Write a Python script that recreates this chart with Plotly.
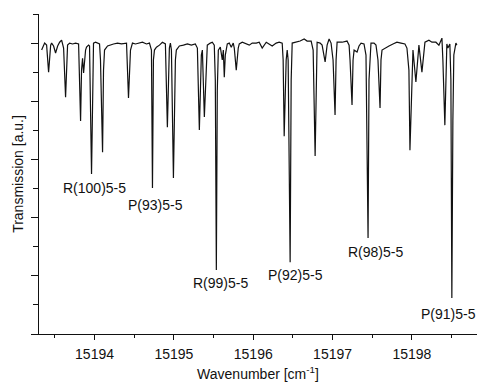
import plotly.graph_objects as go

# Transmission spectrum (normalised, baseline = 1.0)
wavenumber = [
    15193.333, 15193.371, 15193.396, 15193.421, 15193.447, 15193.459, 15193.484, 15193.509,
    15193.535, 15193.560, 15193.585, 15193.610, 15193.635, 15193.648, 15193.660, 15193.686,
    15193.723, 15193.761, 15193.799, 15193.824, 15193.836, 15193.849, 15193.862, 15193.887,
    15193.899, 15193.925, 15193.937, 15193.962, 15193.975, 15193.987, 15194.013, 15194.038,
    15194.063, 15194.075, 15194.101, 15194.113, 15194.126, 15194.164, 15194.189, 15194.239,
    15194.289, 15194.340, 15194.403, 15194.428, 15194.453, 15194.478, 15194.516, 15194.553,
    15194.604, 15194.654, 15194.692, 15194.717, 15194.730, 15194.742, 15194.755, 15194.780,
    15194.818, 15194.855, 15194.893, 15194.918, 15194.943, 15194.956, 15194.969, 15194.994,
    15195.019, 15195.031, 15195.069, 15195.120, 15195.170, 15195.220, 15195.270, 15195.296,
    15195.321, 15195.346, 15195.359, 15195.384, 15195.409, 15195.421, 15195.459, 15195.484,
    15195.509, 15195.522, 15195.535, 15195.547, 15195.560, 15195.585, 15195.610, 15195.623,
    15195.635, 15195.648, 15195.673, 15195.698, 15195.723, 15195.748, 15195.761, 15195.786,
    15195.811, 15195.824, 15195.862, 15195.912, 15195.950, 15195.987, 15196.038, 15196.075,
    15196.113, 15196.164, 15196.201, 15196.239, 15196.289, 15196.327, 15196.365, 15196.377,
    15196.390, 15196.415, 15196.428, 15196.440, 15196.465, 15196.478, 15196.491, 15196.541,
    15196.591, 15196.642, 15196.679, 15196.730, 15196.755, 15196.780, 15196.793, 15196.805,
    15196.843, 15196.868, 15196.906, 15196.931, 15196.956, 15196.981, 15197.006, 15197.031,
    15197.044, 15197.057, 15197.120, 15197.182, 15197.208, 15197.220, 15197.245, 15197.258,
    15197.271, 15197.308, 15197.333, 15197.359, 15197.396, 15197.421, 15197.447, 15197.459,
    15197.484, 15197.522, 15197.547, 15197.572, 15197.598, 15197.610, 15197.623, 15197.660,
    15197.711, 15197.761, 15197.811, 15197.862, 15197.912, 15197.937, 15197.962, 15197.975,
    15198.000, 15198.013, 15198.050, 15198.076, 15198.088, 15198.126, 15198.151, 15198.164,
    15198.214, 15198.252, 15198.302, 15198.340, 15198.378, 15198.390, 15198.415, 15198.428,
    15198.440, 15198.453, 15198.478, 15198.491, 15198.503, 15198.516, 15198.528, 15198.554,
    15198.566,
]
transmission = [
    0.976, 1.000, 0.993, 0.900, 0.993, 1.000, 0.990, 0.966,
    0.990, 1.003, 1.010, 0.983, 0.814, 0.959, 0.993, 1.000,
    0.997, 1.000, 0.997, 0.732, 0.907, 0.948, 0.897, 0.976,
    0.986, 0.993, 0.990, 0.550, 0.873, 1.000, 1.003, 1.000,
    0.997, 0.942, 0.625, 0.907, 0.976, 0.990, 0.993, 0.997,
    1.000, 0.997, 1.000, 0.811, 0.976, 1.000, 0.997, 1.000,
    1.003, 0.997, 1.000, 0.976, 0.502, 0.942, 0.976, 0.986,
    0.993, 1.003, 0.997, 0.711, 0.983, 1.000, 0.976, 0.536,
    0.942, 0.976, 0.990, 0.993, 0.997, 0.993, 0.997, 0.983,
    0.701, 0.959, 0.976, 0.746, 0.959, 0.993, 1.000, 1.003,
    0.993, 0.873, 0.220, 0.838, 0.976, 0.986, 0.942, 0.976,
    0.883, 0.959, 0.997, 1.000, 0.986, 1.000, 0.983, 0.907,
    0.983, 0.997, 1.003, 0.997, 0.993, 1.000, 1.000, 1.003,
    0.983, 1.003, 0.997, 0.990, 1.000, 1.003, 1.000, 0.942,
    0.680, 0.942, 0.976, 0.942, 0.247, 0.873, 1.000, 1.003,
    1.007, 1.014, 1.007, 1.007, 0.976, 0.612, 0.907, 1.003,
    1.000, 0.993, 0.935, 0.993, 1.014, 1.000, 0.942, 0.753,
    0.942, 1.003, 1.003, 1.007, 0.993, 0.942, 0.787, 0.942,
    0.976, 0.969, 0.990, 1.000, 0.997, 0.959, 0.330, 0.873,
    1.000, 1.000, 0.993, 0.942, 0.777, 0.942, 0.976, 0.983,
    0.990, 0.997, 1.003, 1.000, 0.997, 0.983, 0.907, 0.632,
    0.907, 0.976, 0.866, 0.976, 0.993, 0.900, 0.976, 1.003,
    1.010, 1.003, 1.003, 0.993, 1.017, 0.942, 0.718, 0.942,
    0.997, 0.983, 0.997, 0.873, 0.124, 0.735, 0.959, 1.000,
    0.993,
]

# Assigned rovibrational lines: label, label position (wavenumber, transmission)
line_labels = ["R(100)5-5", "P(93)5-5", "R(99)5-5", "P(92)5-5", "R(98)5-5", "P(91)5-5"]
label_wavenumber = [15194.00, 15194.77, 15195.585, 15196.53, 15197.535, 15198.465]
label_transmission = [0.502, 0.443, 0.175, 0.203, 0.282, 0.068]

x_tick_values = [15194, 15195, 15196, 15197, 15198]

FONT = "Arial, 'Liberation Sans', sans-serif"

fig = go.Figure()
fig.add_trace(go.Scatter(
    x=wavenumber, y=transmission, mode="lines",
    line=dict(color="#111111", width=1.2),
    hoverinfo="skip", showlegend=False,
))

for text, lx, ly in zip(line_labels, label_wavenumber, label_transmission):
    fig.add_annotation(
        x=lx, y=ly, text=text, showarrow=False,
        font=dict(family=FONT, size=14, color="#111111"),
        xanchor="center", yanchor="middle",
    )

fig.update_layout(
    width=482, height=382,
    margin=dict(l=39, r=5, t=14, b=48),
    paper_bgcolor="white", plot_bgcolor="white",
    font=dict(family=FONT, size=14, color="#111111"),
    showlegend=False,
)

fig.update_xaxes(
    range=[15193.3, 15198.82],
    automargin=False,
    tickvals=x_tick_values, ticktext=[str(v) for v in x_tick_values],
    ticks="outside", ticklen=5, tickwidth=1, tickcolor="#111111",
    ticklabelstandoff=2,
    minor=dict(dtick=0.5, tick0=15193.5, ticks="outside", ticklen=3, tickcolor="#111111", showgrid=False),
    showline=True, linecolor="#111111", linewidth=1,
    showgrid=False, zeroline=False,
    tickfont=dict(family=FONT, size=14, color="#111111"),
    title=dict(text="Wavenumber [cm<sup>-1</sup>]", standoff=8,
               font=dict(family=FONT, size=14, color="#111111")),
)

fig.update_yaxes(
    range=[0, 1.1],
    automargin=False,
    tick0=0, dtick=0.2,
    ticks="outside", ticklen=7, tickwidth=1, tickcolor="#111111",
    minor=dict(dtick=0.1, tick0=0, ticks="outside", ticklen=5, tickcolor="#111111", showgrid=False),
    showticklabels=False,
    showline=True, linecolor="#111111", linewidth=1,
    showgrid=False, zeroline=False,
    title=dict(text="Transmission [a.u.]", standoff=4,
               font=dict(family=FONT, size=14, color="#111111")),
)

fig.write_html("out.html")
